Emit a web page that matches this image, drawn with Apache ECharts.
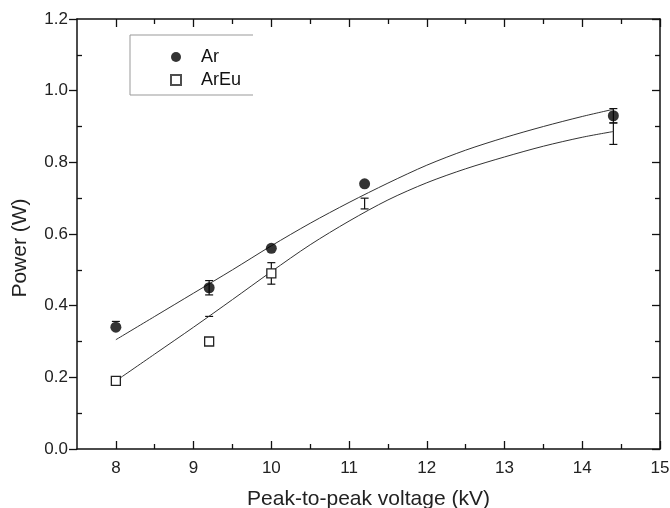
<!DOCTYPE html>
<html>
<head>
<meta charset="utf-8">
<script src="https://cdn.jsdelivr.net/npm/echarts@6/dist/echarts.min.js"></script>
<style>
  html, body { margin: 0; padding: 0; background: #fff; }
  #chart { width: 670px; height: 508px; }
</style>
</head>
<body>
<div id="chart"></div>
<script>
// Peak-to-peak voltage (kV) at which power was measured
const voltages = [8, 9.2, 10, 11.2, 14.4];

// Measured power (W) with error bars
const arPower = [0.34, 0.45, 0.56, 0.74, 0.93];
const arErrUp = [0.016, 0.02, 0, 0, 0.02];
const arErrDown = [0, 0.02, 0, 0, 0.02];

const areuPower = [0.19, 0.30, 0.49, 0.685, 0.88];
const areuErrUp = [0, 0.07, 0.03, 0.015, 0.03];
const areuErrDown = [0, 0, 0.03, 0.015, 0.03];
const areuMarkerShown = [true, true, true, false, false];

// Fitted trend curves
const fitX = [8, 8.5, 9, 9.5, 10, 10.5, 11, 11.5, 12, 12.5, 13, 13.5, 14, 14.4];
const arFit = [0.305, 0.37, 0.435, 0.5, 0.567, 0.63, 0.688, 0.742, 0.792, 0.834, 0.869, 0.9, 0.928, 0.948];
const areuFit = [0.19, 0.265, 0.34, 0.417, 0.495, 0.57, 0.636, 0.695, 0.743, 0.782, 0.815, 0.845, 0.87, 0.886];

// Axis ticks
const xMajorTicks = [8, 9, 10, 11, 12, 13, 14, 15];
const xMinorTicks = [8.5, 9.5, 10.5, 11.5, 12.5, 13.5, 14.5];
const yMajorTicks = [0, 0.2, 0.4, 0.6, 0.8, 1.0, 1.2];
const yMinorTicks = [0.1, 0.3, 0.5, 0.7, 0.9, 1.1];

const FONT = 'Arial, "Liberation Sans", sans-serif';
const INK = '#111';

const gridRect = { left: 77, top: 19, width: 583, height: 430, outerBoundsMode: 'none', containLabel: false };

function pairs(xs, ys) { return xs.map((x, i) => [x, ys[i]]); }

function errorBarData(xs, ys, up, down) {
  return xs.map((x, i) => [x, ys[i] - down[i], ys[i] + up[i], up[i], down[i]]);
}

// Vertical error bar; the stem is only drawn when the bar extends both ways
function renderErrorBar(params, api) {
  const x = api.value(0);
  const lo = api.coord([x, api.value(1)]);
  const hi = api.coord([x, api.value(2)]);
  const half = 4;
  const style = { stroke: INK, lineWidth: 1.2, fill: null };
  const children = [];
  const up = api.value(3) > 0;
  const down = api.value(4) > 0;
  if (up && down) {
    children.push({ type: 'line', shape: { x1: hi[0], y1: hi[1], x2: lo[0], y2: lo[1] }, style });
  }
  if (up) {
    children.push({ type: 'line', shape: { x1: hi[0] - half, y1: hi[1], x2: hi[0] + half, y2: hi[1] }, style });
  }
  if (down) {
    children.push({ type: 'line', shape: { x1: lo[0] - half, y1: lo[1], x2: lo[0] + half, y2: lo[1] }, style });
  }
  return { type: 'group', children };
}

function xAxisBase(gridIndex, position) {
  return {
    type: 'value', gridIndex, position, min: 7.5, max: 15,
    splitLine: { show: false },
    axisLine: { show: gridIndex === 0, onZero: false, lineStyle: { color: INK, width: 1.5 } },
    axisLabel: { show: false },
    axisTick: { show: true, inside: true, length: gridIndex === 0 ? 8 : 5,
      customValues: gridIndex === 0 ? xMajorTicks : xMinorTicks,
      lineStyle: { color: INK, width: 1.3 } }
  };
}

function yAxisBase(gridIndex, position) {
  const major = gridIndex === 0;
  return {
    type: 'value', gridIndex, position, min: 0, max: 1.2, interval: 0.2,
    splitLine: { show: false },
    axisLine: { show: major, onZero: false, lineStyle: { color: INK, width: 1.5 } },
    axisLabel: { show: false },
    axisTick: { show: true, inside: !(major && position === 'left'), length: major ? 8 : 5,
      customValues: major ? yMajorTicks : yMinorTicks,
      lineStyle: { color: INK, width: 1.3 } }
  };
}

const xBottom = xAxisBase(0, 'bottom');
xBottom.axisLabel = {
  show: true, customValues: xMajorTicks, margin: 11,
  color: '#222', fontSize: 17, fontFamily: FONT
};
xBottom.name = 'Peak-to-peak voltage (kV)';
xBottom.nameLocation = 'middle';
xBottom.nameGap = 40;
xBottom.nameTextStyle = { color: '#222', fontSize: 21, fontFamily: FONT };

const yLeft = yAxisBase(0, 'left');
yLeft.axisLabel = {
  show: true, margin: 9, color: '#222', fontSize: 17, fontFamily: FONT,
  formatter: v => v.toFixed(1)
};
yLeft.name = 'Power (W)';
yLeft.nameLocation = 'middle';
yLeft.nameGap = 46;
yLeft.nameTextStyle = { color: '#222', fontSize: 21, fontFamily: FONT, padding: [0, 28, 0, 0] };

const option = {
  backgroundColor: '#fff',
  animation: false,
  grid: [
    Object.assign({}, gridRect),
    Object.assign({}, gridRect)
  ],
  xAxis: [
    xBottom,
    xAxisBase(0, 'top'),
    xAxisBase(1, 'bottom'),
    xAxisBase(1, 'top')
  ],
  yAxis: [
    yLeft,
    yAxisBase(0, 'right'),
    yAxisBase(1, 'left'),
    yAxisBase(1, 'right')
  ],
  legend: {
    orient: 'vertical',
    left: 165, top: 43,
    itemWidth: 10, itemHeight: 10, itemGap: 5,
    textStyle: { color: '#111', fontSize: 18, fontFamily: FONT, padding: [0, 0, 0, 15] },
    data: [
      { name: 'Ar', icon: 'circle' },
      { name: 'ArEu', icon: 'rect' }
    ]
  },
  graphic: [{
    type: 'polyline',
    shape: { points: [[253, 35], [130, 35], [130, 95], [253, 95]] },
    style: { stroke: '#999', lineWidth: 1, fill: null }
  }],
  series: [
    {
      type: 'line', name: 'Ar fit', data: pairs(fitX, arFit), smooth: 0.3,
      showSymbol: false, symbol: 'none',
      lineStyle: { color: '#333', width: 1 }
    },
    {
      type: 'line', name: 'ArEu fit', data: pairs(fitX, areuFit), smooth: 0.3,
      showSymbol: false, symbol: 'none',
      lineStyle: { color: '#333', width: 1 }
    },
    {
      type: 'custom', name: 'Ar err', renderItem: renderErrorBar,
      data: errorBarData(voltages, arPower, arErrUp, arErrDown), z: 3
    },
    {
      type: 'custom', name: 'ArEu err', renderItem: renderErrorBar,
      data: errorBarData(voltages, areuPower, areuErrUp, areuErrDown), z: 3
    },
    {
      type: 'scatter', name: 'Ar', symbol: 'circle', symbolSize: 11,
      data: pairs(voltages, arPower), z: 5,
      itemStyle: { color: '#000' }
    },
    {
      type: 'scatter', name: 'ArEu', symbol: 'rect', symbolSize: 9,
      data: voltages.map((x, i) => ({
        value: [x, areuPower[i]],
        itemStyle: { opacity: areuMarkerShown[i] ? 1 : 0 }
      })),
      z: 5,
      itemStyle: { color: '#fff', borderColor: '#222', borderWidth: 1.3 }
    }
  ]
};

echarts.init(document.getElementById('chart'), null, { renderer: 'canvas' }).setOption(option);
</script>
</body>
</html>
